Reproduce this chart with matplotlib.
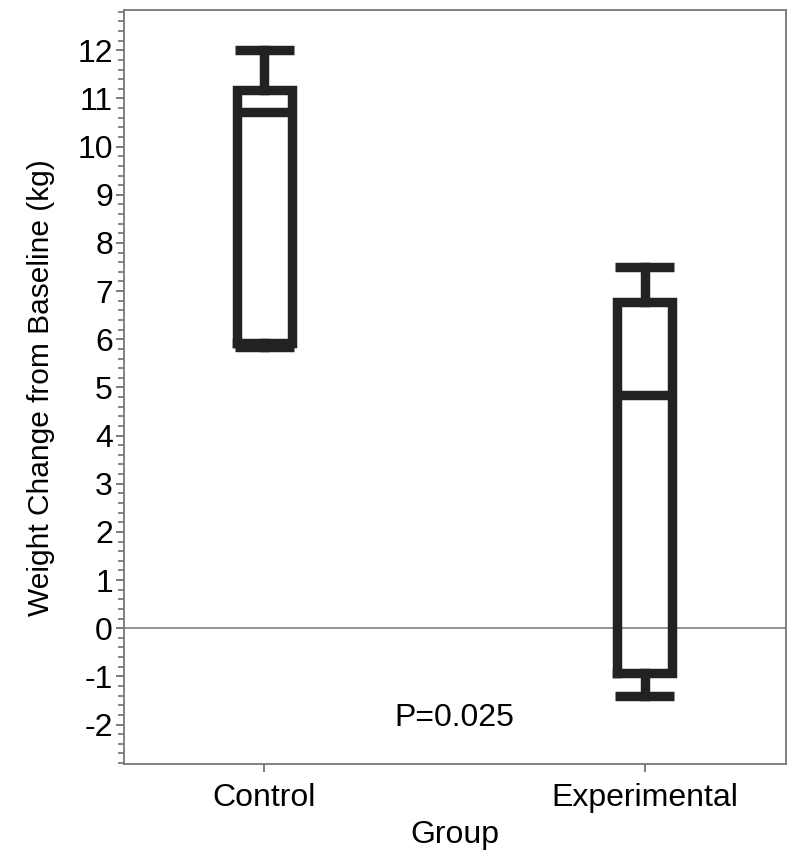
import matplotlib
matplotlib.use("Agg")
import matplotlib.pyplot as plt
from matplotlib.ticker import MultipleLocator
from matplotlib import font_manager

groups = ["Control", "Experimental"]
whislo = [5.85, -1.41]
q1 = [5.92, -0.93]
med = [10.71, 4.84]
q3 = [11.17, 6.78]
whishi = [12.0, 7.51]
p_text = "P=0.025"

names = {f.name for f in font_manager.fontManager.ttflist}
fam = ["Liberation Sans Narrow", "DejaVu Sans"] if "Liberation Sans Narrow" in names else ["Liberation Sans", "DejaVu Sans"]
plt.rcParams["font.family"] = fam
plt.rcParams["axes.unicode_minus"] = False

fig = plt.figure(figsize=(8, 8.64), dpi=100)
ax = fig.add_axes([0.155, 0.1157, 0.8275, 0.8723])

stats = []
for i, g in enumerate(groups):
    stats.append(dict(label=g, whislo=whislo[i], q1=q1[i], med=med[i], q3=q3[i], whishi=whishi[i], fliers=[]))

dark = "#222222"
lw = 6.8
positions = [1, 2]
ax.axhline(0, color="#8a8a8a", lw=1.3, zorder=0)
ax.bxp(stats, positions=positions, widths=0.145, capwidths=0.155, showfliers=False,
       boxprops=dict(color=dark, lw=lw, solid_joinstyle="miter"),
       whiskerprops=dict(color=dark, lw=lw),
       capprops=dict(color=dark, lw=lw, solid_capstyle="butt"),
       medianprops=dict(color=dark, lw=lw))

ax.set_xlim(0.631, 2.371)
ax.set_ylim(-2.82, 12.83)
ax.yaxis.set_major_locator(MultipleLocator(1))
ax.yaxis.set_minor_locator(MultipleLocator(0.2))
ax.set_xticks(positions)
ax.set_xticklabels(groups)
ax.tick_params(axis="both", which="major", labelsize=23, length=6, width=1.2, color="#666666", direction="out")
ax.tick_params(axis="y", which="major", pad=2)
ax.tick_params(axis="y", which="minor", length=4, width=1.1, color="#666666")
ax.tick_params(axis="x", pad=8)
for s in ax.spines.values():
    s.set_color("#777777")
    s.set_linewidth(1.3)

ax.set_ylabel("Weight Change from Baseline (kg)", fontsize=21.5)
ax.yaxis.set_label_coords(-0.104, 0.5)
ax.set_xlabel("Group", fontsize=23, labelpad=5)
ax.text(1.5, -1.87, p_text, fontsize=23, ha="center", va="center")

fig.savefig("out.png", dpi=100)
